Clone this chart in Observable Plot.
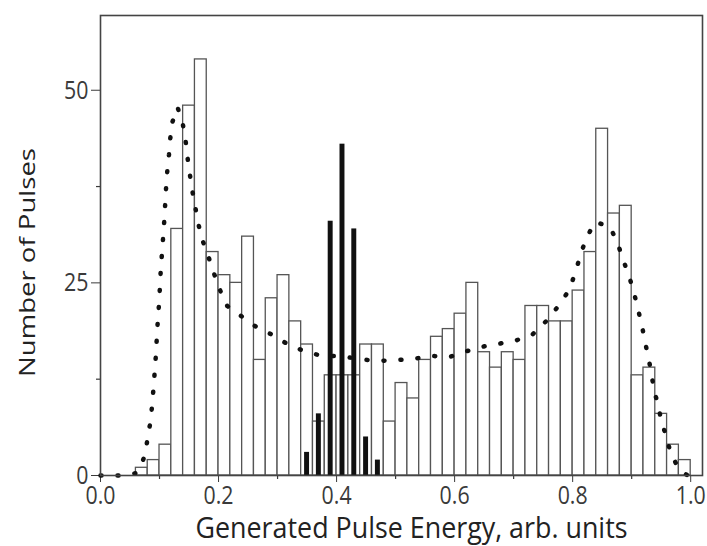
<!DOCTYPE html>
<html>
<head>
<meta charset="utf-8">
<script src="https://cdn.jsdelivr.net/npm/d3@7"></script>
<script src="https://cdn.jsdelivr.net/npm/@observablehq/plot@0.6"></script>
<style>
  html, body { margin: 0; padding: 0; background: #fff; }
</style>
</head>
<body>
<div id="chart"></div>
<script>
// Open histogram: left edge of each bin (width 0.02) and its count
const openBinLeft = [0.06,0.08,0.10,0.12,0.14,0.16,0.18,0.20,0.22,0.24,0.26,0.28,0.30,0.32,0.34,0.36,0.38,0.40,0.42,0.44,0.46,0.48,0.50,0.52,0.54,0.56,0.58,0.60,0.62,0.64,0.66,0.68,0.70,0.72,0.74,0.76,0.78,0.80,0.82,0.84,0.86,0.88,0.90,0.92,0.94,0.96,0.98];
const openCounts  = [1,2,4,32,48,54,29,26,25,31,15,23,26,20,17,7,13,13,13,17,17,7,12,10,15,18,19,21,25,16,14,16,15,22,22,20,20,24,29,45,34,35,13,14,8,4,2];
const openBinWidth = 0.02;

// Narrow solid histogram (centres and counts)
const solidCenters = [0.35,0.37,0.39,0.41,0.43,0.45,0.47];
const solidCounts  = [3,8,33,43,32,5,2];
const solidHalfWidth = 0.0042;

// Dotted curve (x, count)
const curveX = [0.0,0.03,0.06,0.067,0.076,0.080,0.085,0.0876,0.090,0.092,0.094,0.0955,0.097,0.099,0.1005,0.102,0.104,0.106,0.108,0.1096,0.111,0.113,0.116,0.118,0.1215,0.1305,0.139,0.144,0.147,0.151,0.155,0.160,0.165,0.172,0.182,0.1915,0.2017,0.2147,0.240,0.2655,0.2927,0.320,0.347,0.376,0.405,0.4605,0.479,0.507,0.5356,0.564,0.592,0.619,0.646,0.675,0.703,0.732,0.756,0.778,0.795,0.805,0.8136,0.823,0.838,0.863,0.876,0.885,0.8955,0.904,0.911,0.9175,0.923,0.929,0.934,0.939,0.9446,0.950,0.959,0.966,0.981,0.995];
const curveY = [0,0,0.3,0.95,2.8,5.0,7.1,9.3,11.5,13.6,15.8,18,20,22.1,24.2,26.5,28.7,30.8,33,35.2,37.2,39.4,41.6,43.6,45.8,47.8,45.8,43.6,41.5,39.3,37.2,35.1,32.9,30.7,28.6,26.4,24.2,22,20.6,19.2,18.2,16.9,16.1,15.5,15.5,14.9,14.9,15,15.2,15.5,15.4,16.1,16.7,17.1,17.5,18.3,20.1,22.2,24.2,26.5,28.7,30.8,32.9,32.3,30.2,28.1,25.9,23.7,21.5,19.4,17.2,15.1,12.9,10.7,9.3,7.1,5.0,2.9,0.7,0];

// Axis ticks
const xMajorTicks = [0,0.2,0.4,0.6,0.8,1.0];
const xMinorTicks = [0.1,0.3,0.5,0.7,0.9];
const yMajorTicks = [0,25,50];
const yMinorTicks = [12.5,37.5];

const xLabel = "Generated Pulse Energy, arb. units";
const yLabel = "Number of Pulses";

const openData = openBinLeft.map((x, i) => ({x1: x, x2: x + openBinWidth, n: openCounts[i]}));
const solidData = solidCenters.map((c, i) => ({x1: c - solidHalfWidth, x2: c + solidHalfWidth, n: solidCounts[i]}));
const curveData = curveX.map((x, i) => ({x, y: curveY[i]}));

const ink = "#3a3a3a";
const plot = Plot.plot({
  width: 707,
  height: 546,
  marginLeft: 100,
  marginRight: 5,
  marginTop: 15,
  marginBottom: 71,
  style: {fontFamily: "'Open Sans', sans-serif", fontSize: "26px", color: ink, background: "#fff"},
  x: {domain: [0, 1.02], ticks: xMajorTicks, tickFormat: d3.format(".1f"), tickSize: 7, tickPadding: 3, label: null},
  y: {domain: [0, 59.7], ticks: yMajorTicks, tickSize: 9, tickPadding: 3, label: null},
  marks: [
    Plot.rectY(openData, {x1: "x1", x2: "x2", y: "n", fill: "white", stroke: "#555", strokeWidth: 1.3}),
    Plot.line(curveData, {x: "x", y: "y", stroke: "#111", strokeWidth: 4.5, strokeDasharray: "1 16", strokeLinecap: "round"}),
    Plot.rectY(solidData, {x1: "x1", x2: "x2", y: "n", fill: "#111"}),
    Plot.ruleX(xMinorTicks, {y1: 0, y2: -4 / 7.7, stroke: ink, strokeWidth: 1.2}),
    Plot.ruleY(yMinorTicks, {x1: 0, x2: -4 / 590, stroke: ink, strokeWidth: 1.2}),
    Plot.frame({stroke: "#444", strokeWidth: 1.6}),
    Plot.text([xLabel], {frameAnchor: "bottom", textAnchor: "middle", dx: 10, dy: 62, fontSize: 29, fill: "#222"}),
    Plot.text([yLabel], {frameAnchor: "left", textAnchor: "middle", rotate: -90, dx: -72, dy: 17, fontSize: 21, fill: "#222"})
  ]
});
document.getElementById("chart").appendChild(plot);

// The reference is stretched vertically; compress horizontal text along its baseline
plot.querySelectorAll("text").forEach(t => {
  const txt = t.textContent;
  const L = t.getComputedTextLength();
  if (txt === xLabel) {
    t.setAttribute("textLength", 432);
  } else if (txt === yLabel) {
    t.setAttribute("textLength", 229);
  } else {
    t.setAttribute("textLength", (L * 0.82).toFixed(1));
  }
  t.setAttribute("lengthAdjust", "spacingAndGlyphs");
});
</script>
</body>
</html>
